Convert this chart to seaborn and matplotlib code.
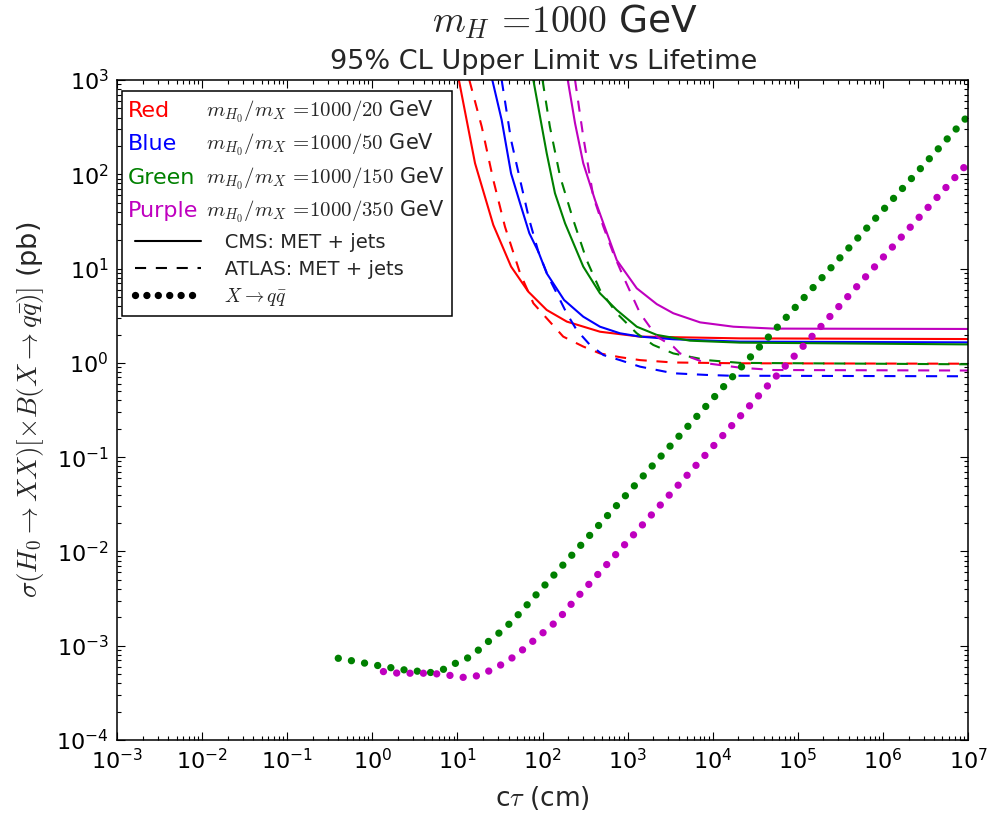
import numpy as np
import pandas as pd
import matplotlib
matplotlib.use("Agg")
import matplotlib.pyplot as plt
import seaborn as sns
from matplotlib.legend_handler import HandlerBase, HandlerLine2D
from matplotlib.lines import Line2D
from matplotlib.text import Text
from matplotlib.ticker import LogLocator, NullFormatter

# ---- limits vs c*tau (cm); sigma in pb ----
# CMS: MET + jets
cms_red_ct = [10.4, 16.1, 26.4, 42.7, 68.1, 112, 193, 474, 1400, 20900, 1e7]
cms_red_sig = [1000, 131, 29.0, 10.5, 5.69, 3.64, 2.74, 2.14, 1.90, 1.82, 1.79]
cms_blue_ct = [25.7, 33.1, 42.7, 54.5, 70.0, 89.3, 112, 179, 301, 473, 813, 1400, 3440, 20900, 1e7]
cms_blue_sig = [1000, 377, 102, 49.2, 23.7, 15.1, 8.91, 4.65, 3.09, 2.42, 2.06, 1.90, 1.78, 1.68, 1.65]
cms_green_ct = [78.0, 93.5, 112, 140, 184, 301, 473, 745, 1280, 2200, 5410, 20900, 1e7]
cms_green_sig = [1000, 408, 167, 63.0, 30.2, 10.5, 5.47, 3.64, 2.42, 1.98, 1.72, 1.64, 1.57]
cms_purple_ct = [198, 241, 301, 414, 519, 745, 1280, 2200, 3440, 7100, 17500, 51600, 1e7]
cms_purple_sig = [1000, 348, 131, 53.3, 30.2, 12.3, 6.18, 4.20, 3.36, 2.69, 2.42, 2.31, 2.29]

# ATLAS: MET + jets
atlas_red_ct = [13.8, 19.3, 26.4, 36.2, 54.5, 78.0, 112, 175, 301, 473, 813, 1400, 3410, 20900, 1e7]
atlas_red_sig = [1000, 320, 87.1, 27.8, 8.91, 4.29, 2.97, 1.90, 1.49, 1.26, 1.15, 1.07, 1.01, 0.99, 0.98]
atlas_blue_ct = [33.1, 42.7, 54.5, 70.0, 89.3, 117, 147, 192, 252, 361, 519, 813, 1400, 3440, 8490, 16000, 1e7]
atlas_blue_sig = [1000, 231, 87.1, 32.7, 15.1, 8.20, 5.47, 3.36, 2.23, 1.55, 1.21, 1.07, 0.912, 0.776, 0.745, 0.731, 0.721]
atlas_green_ct = [100, 122, 161, 230, 330, 473, 745, 1280, 2000, 3440, 8490, 20900, 1e7]
atlas_green_sig = [1000, 320, 94.4, 32.7, 12.3, 5.93, 3.36, 2.06, 1.55, 1.26, 1.07, 1.00, 0.966]
atlas_purple_ct = [241, 301, 395, 519, 679, 891, 1400, 2200, 3440, 4130, 8490, 20900, 51600, 1e7]
atlas_purple_sig = [1000, 251, 57.9, 27.8, 14.5, 8.20, 3.36, 1.90, 1.49, 1.26, 0.99, 0.89, 0.84, 0.83]

# X -> q qbar
qq_green_ct = [0.398, 1.18, 2.42, 4.99, 7.14, 9.82, 13.8, 18.5, 24.2, 32.3, 42.3, 54.5, 69.3,
               1e3, 1e4, 1e5, 1e6, 1e7]
qq_green_sig = [7.36e-4, 6.15e-4, 5.53e-4, 5.19e-4, 5.68e-4, 6.62e-4, 7.55e-4, 9.31e-4, 1.15e-3,
                1.41e-3, 1.76e-3, 2.24e-3, 2.86e-3, 4.14e-2, 0.417, 4.16, 41.7, 417]
qq_purple_ct = [1.35, 2.02, 2.90, 4.16, 5.97, 8.57, 12.3, 17.6, 24.6, 34.0, 46.2, 62.2, 81.7,
                109, 143, 184, 230, 1e3, 1e4, 1e5, 1e6, 1e7]
qq_purple_sig = [5.32e-4, 5.11e-4, 5.11e-4, 5.11e-4, 5.02e-4, 4.82e-4, 4.59e-4, 4.82e-4, 5.50e-4,
                 6.41e-4, 7.66e-4, 9.48e-4, 1.17e-3, 1.45e-3, 1.79e-3, 2.30e-3, 2.94e-3,
                 1.28e-2, 0.129, 1.30, 13.1, 132]

colour_names = ["Red", "Blue", "Green", "Purple"]
colour_values = ["#ff0000", "#0000ff", "#008000", "#bf00bf"]
mass_labels = ["1000/20", "1000/50", "1000/150", "1000/350"]
search_labels = ["CMS: MET + jets", "ATLAS: MET + jets", r"$X\to q\bar{q}$"]

series = [
    ("CMS", "Red", cms_red_ct, cms_red_sig),
    ("CMS", "Blue", cms_blue_ct, cms_blue_sig),
    ("CMS", "Green", cms_green_ct, cms_green_sig),
    ("CMS", "Purple", cms_purple_ct, cms_purple_sig),
    ("ATLAS", "Red", atlas_red_ct, atlas_red_sig),
    ("ATLAS", "Blue", atlas_blue_ct, atlas_blue_sig),
    ("ATLAS", "Green", atlas_green_ct, atlas_green_sig),
    ("ATLAS", "Purple", atlas_purple_ct, atlas_purple_sig),
    ("qq", "Green", qq_green_ct, qq_green_sig),
    ("qq", "Purple", qq_purple_ct, qq_purple_sig),
]
frames = [pd.DataFrame({"ct": ct, "sigma": sig, "search": s, "model": m})
          for s, m, ct, sig in series]
df = pd.concat(frames, ignore_index=True)

sns.set_style("ticks")
plt.rcParams.update({
    "font.family": ["DejaVu Sans"],
    "mathtext.fontset": "cm",
    "lines.scale_dashes": False,
    "xtick.direction": "in", "ytick.direction": "in",
    "xtick.top": True, "ytick.right": True,
    "xtick.major.size": 5.5, "ytick.major.size": 5.5,
    "xtick.minor.size": 2.7, "ytick.minor.size": 2.7,
    "xtick.major.width": 0.8, "ytick.major.width": 0.8,
    "xtick.minor.width": 0.8, "ytick.minor.width": 0.8,
    "xtick.major.pad": 6, "ytick.major.pad": 6,
    "xtick.color": "black", "ytick.color": "black",
    "axes.edgecolor": "black", "axes.linewidth": 1.1,
    "legend.fancybox": False,
})

fig = plt.figure(figsize=(10.02, 8.15), dpi=100)
ax = fig.add_axes([0.1168, 0.0920, 0.8493, 0.8098])
ax.set_xscale("log")
ax.set_yscale("log")

colour_of = dict(zip(colour_names, colour_values))
style_of = {
    "CMS": dict(linestyle="-", linewidth=1.5),
    "ATLAS": dict(linestyle=(0, (8, 7)), linewidth=1.5),
    "qq": dict(linestyle=(0, (0.01, 9.6)), linewidth=5.3, dash_capstyle="round"),
}
for (s, m), sub in df.groupby(["search", "model"], sort=False):
    sns.lineplot(data=sub, x="ct", y="sigma", ax=ax, color=colour_of[m],
                 estimator=None, sort=False, legend=False, **style_of[s])

ax.set_xlim(1e-3, 1e7)
ax.set_ylim(1e-4, 1e3)
for axis in (ax.xaxis, ax.yaxis):
    axis.set_major_locator(LogLocator(base=10, numticks=20))
    axis.set_minor_locator(LogLocator(base=10, subs=np.arange(2, 10), numticks=200))
    axis.set_minor_formatter(NullFormatter())
ax.tick_params(axis="both", which="major", labelsize=16)

ax.set_xlabel(r"c$\tau$ (cm)", fontsize=19)
ax.set_ylabel(r"$\sigma(H_0\to XX)[\times B(X\to q\bar{q})]$ (pb)", fontsize=19.5)
ax.xaxis.set_label_coords(0.5, -0.066)
ax.yaxis.set_label_coords(-0.083, 0.5)

fig.text(565 / 1002, 1 - 33 / 815, r"$m_H\,=\!1000$ GeV", fontsize=27,
         ha="center", va="baseline")
fig.text(544 / 1002, 1 - 69 / 815, "95% CL Upper Limit vs Lifetime", fontsize=19.5,
         ha="center", va="baseline")


class ColourWord:
    def __init__(self, word, colour):
        self.word = word
        self.colour = colour


class ColourWordHandler(HandlerBase):
    """Draws the colour name itself, in its colour, in place of a line sample."""
    def create_artists(self, legend, orig_handle, xdescent, ydescent,
                       width, height, fontsize, trans):
        t = Text(-xdescent - 1.2, 0, orig_handle.word, color=orig_handle.colour,
                 fontsize=16, ha="left", va="baseline", transform=trans)
        return [t]


handles = [ColourWord(n, c) for n, c in zip(colour_names, colour_values)]
labels = [r"$m_{H_0}/m_X\,=\!%s$ GeV" % ml for ml in mass_labels]
handles += [
    Line2D([], [], color="black", linewidth=1.5),
    Line2D([], [], color="black", linewidth=1.5, linestyle=(0, (8, 7))),
    Line2D([], [], color="black", linewidth=5.3, linestyle=(0, (0.01, 8.2)),
           dash_capstyle="round"),
]
labels += ["   " + t for t in search_labels]

leg = ax.legend(handles, labels,
                handler_map={ColourWord: ColourWordHandler(),
                             Line2D: HandlerLine2D(xpad=0.27)},
                loc="upper left", bbox_to_anchor=(0.006, 0.983), borderaxespad=0,
                fontsize=14, handlelength=3.65, handletextpad=0.28,
                labelspacing=0.39, borderpad=0.38, framealpha=1)
for txt in leg.get_texts()[:4]:
    txt.set_fontsize(15)
leg.get_frame().set_edgecolor("black")
leg.get_frame().set_linewidth(1.1)

fig.savefig("out.png", dpi=100, facecolor="white")
